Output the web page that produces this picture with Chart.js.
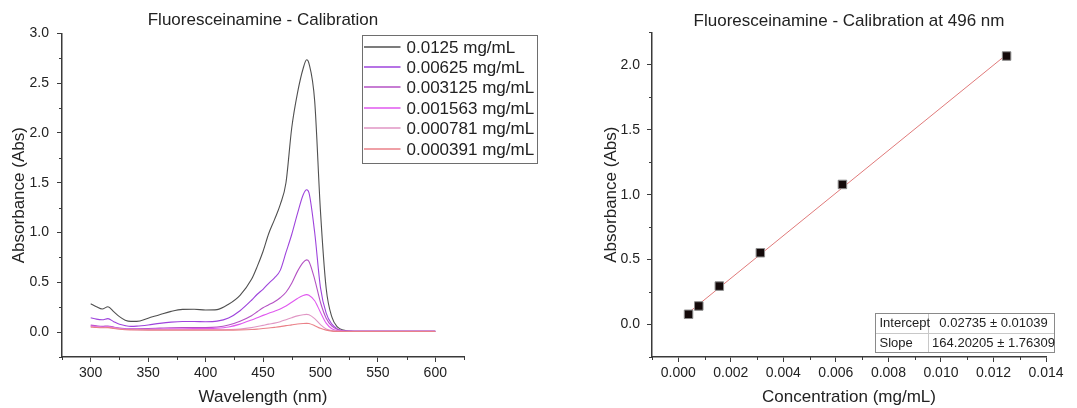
<!DOCTYPE html>
<html>
<head>
<meta charset="utf-8">
<title>Fluoresceinamine calibration</title>
<script src="https://cdn.jsdelivr.net/npm/chart.js@4/dist/chart.umd.min.js"></script>
<style>
  html, body { margin: 0; padding: 0; background: #ffffff; }
  #wrap { position: relative; width: 1077px; height: 408px; overflow: hidden; background: #ffffff; }
  #spec { position: absolute; left: 0; top: 0; }
  #calib { position: absolute; left: 540px; top: 0; }
</style>
</head>
<body>
<div id="wrap">
  <canvas id="spec" width="540" height="408"></canvas>
  <canvas id="calib" width="537" height="408"></canvas>
</div>
<script>
// ---------- Absorption spectra (left panel) ----------
const wavelengths = [300, 305, 310, 315, 320, 325, 330, 335, 340,
  350, 360, 370, 380, 390, 400, 410, 420, 430, 440,
  445, 450, 455, 460, 465, 470, 475, 480, 485, 488, 490, 495, 500, 505, 510, 515, 520, 525, 530,
  540, 560, 580, 600];

const seriesLabels = ['0.0125 mg/mL', '0.00625 mg/mL', '0.003125 mg/mL', '0.001563 mg/mL', '0.000781 mg/mL', '0.000391 mg/mL'];

const abs0125 = [0.285, 0.255, 0.232, 0.255, 0.205, 0.155, 0.120, 0.108, 0.108,
  0.140, 0.175, 0.208, 0.228, 0.230, 0.222, 0.226, 0.280, 0.370, 0.530,
  0.660, 0.810, 0.990, 1.130, 1.280, 1.500, 2.050, 2.400, 2.650, 2.735, 2.700, 2.320, 1.220, 0.440, 0.150, 0.050, 0.020, 0.010, 0.008,
  0.007, 0.007, 0.007, 0.007];

const abs00625 = [0.145, 0.130, 0.124, 0.135, 0.105, 0.078, 0.065, 0.058, 0.060,
  0.072, 0.088, 0.100, 0.106, 0.106, 0.104, 0.110, 0.142, 0.215, 0.320,
  0.380, 0.430, 0.490, 0.545, 0.620, 0.800, 0.980, 1.190, 1.380, 1.430, 1.400, 1.000, 0.450, 0.190, 0.080, 0.030, 0.014, 0.010, 0.009,
  0.009, 0.009, 0.009, 0.009];

const abs003125 = [0.070, 0.063, 0.058, 0.062, 0.050, 0.040, 0.035, 0.032, 0.033,
  0.036, 0.040, 0.044, 0.046, 0.047, 0.047, 0.052, 0.072, 0.110, 0.165,
  0.205, 0.245, 0.275, 0.305, 0.345, 0.400, 0.490, 0.610, 0.700, 0.725, 0.710, 0.530, 0.300, 0.140, 0.060, 0.025, 0.012, 0.009, 0.008,
  0.008, 0.008, 0.008, 0.008];

const abs001563 = [0.062, 0.056, 0.052, 0.056, 0.046, 0.036, 0.031, 0.028, 0.028,
  0.029, 0.031, 0.033, 0.034, 0.035, 0.036, 0.040, 0.052, 0.080, 0.122,
  0.145, 0.168, 0.190, 0.210, 0.232, 0.262, 0.300, 0.338, 0.368, 0.376, 0.370, 0.315, 0.200, 0.090, 0.033, 0.014, 0.009, 0.008, 0.008,
  0.008, 0.008, 0.008, 0.008];

const abs000781 = [0.056, 0.051, 0.048, 0.050, 0.041, 0.033, 0.028, 0.026, 0.025,
  0.024, 0.024, 0.024, 0.024, 0.024, 0.024, 0.024, 0.026, 0.031, 0.045,
  0.056, 0.068, 0.080, 0.090, 0.105, 0.125, 0.145, 0.163, 0.175, 0.178, 0.175, 0.135, 0.075, 0.032, 0.015, 0.010, 0.008, 0.007, 0.007,
  0.007, 0.007, 0.007, 0.007];

const abs000391 = [0.050, 0.046, 0.044, 0.045, 0.037, 0.029, 0.024, 0.022, 0.021,
  0.020, 0.020, 0.020, 0.020, 0.020, 0.020, 0.020, 0.020, 0.022, 0.026,
  0.030, 0.036, 0.042, 0.048, 0.055, 0.065, 0.073, 0.082, 0.087, 0.088, 0.086, 0.065, 0.038, 0.020, 0.010, 0.007, 0.006, 0.006, 0.006,
  0.006, 0.006, 0.006, 0.006];

const seriesValues = [abs0125, abs00625, abs003125, abs001563, abs000781, abs000391];
const seriesColors = ['#505050', '#9e44dc', '#b452c4', '#e058ef', '#e096c4', '#ea8088'];

const specXTicks = [300, 350, 400, 450, 500, 550, 600];
const specXMinor = [275, 325, 375, 425, 475, 525, 575, 625];
const specYTicks = [0, 0.5, 1.0, 1.5, 2.0, 2.5, 3.0];
const specYMinor = [-0.25, 0.25, 0.75, 1.25, 1.75, 2.25, 2.75];

// ---------- Calibration at 496 nm (right panel) ----------
const concentrations = [0.000391, 0.000781, 0.001563, 0.003125, 0.00625, 0.0125];
const absorbance496 = [0.079, 0.143, 0.296, 0.553, 1.079, 2.068];
const fitIntercept = 0.02735;
const fitSlope = 164.20205;
const fitTable = [['Intercept', '0.02735 \u00b1 0.01039'], ['Slope', '164.20205 \u00b1 1.76309']];

const calXTicks = [0, 0.002, 0.004, 0.006, 0.008, 0.010, 0.012, 0.014];
const calXMinor = [-0.001, 0.001, 0.003, 0.005, 0.007, 0.009, 0.011, 0.013];
const calYTicks = [0, 0.5, 1.0, 1.5, 2.0];
const calYMinor = [-0.25, 0.25, 0.75, 1.25, 1.75, 2.25];

// ---------- shared styling ----------
const FAMILY = "'Liberation Sans', Arial, Helvetica, sans-serif";
const AXIS = '#3a3a3a';
const TEXT = '#222222';

// short outward tick marks between the labelled ones
const minorTicks = {
  id: 'minorTicks',
  afterDraw(chart, args, opts) {
    const ctx = chart.ctx;
    const xs = chart.scales.x, ys = chart.scales.y;
    ctx.save();
    ctx.strokeStyle = AXIS;
    ctx.lineWidth = 1;
    (opts.x || []).forEach(v => {
      const px = Math.round(xs.getPixelForValue(v)) + 0.5;
      ctx.beginPath(); ctx.moveTo(px, xs.top); ctx.lineTo(px, xs.top + 3); ctx.stroke();
    });
    (opts.y || []).forEach(v => {
      const py = Math.round(ys.getPixelForValue(v)) + 0.5;
      ctx.beginPath(); ctx.moveTo(ys.right, py); ctx.lineTo(ys.right - 3, py); ctx.stroke();
    });
    ctx.restore();
  }
};

// framed legend in the upper right of the spectra panel
const boxLegend = {
  id: 'boxLegend',
  afterDraw(chart) {
    const ctx = chart.ctx, ca = chart.chartArea;
    const x0 = Math.round(ca.right - 102) + 0.5, y0 = Math.round(ca.top + 2) + 0.5;
    const w = 175, h = 128, rowH = 20.4;
    ctx.save();
    ctx.lineWidth = 1;
    ctx.strokeStyle = '#6e6e6e';
    ctx.strokeRect(x0, y0, w, h);
    ctx.font = '17px ' + FAMILY;
    ctx.textBaseline = 'middle';
    ctx.textAlign = 'left';
    seriesLabels.forEach((label, i) => {
      const cy = Math.round(y0 + 11 + i * rowH);
      ctx.strokeStyle = seriesColors[i];
      ctx.lineWidth = 1.5;
      ctx.beginPath(); ctx.moveTo(x0 + 1.5, cy); ctx.lineTo(x0 + 38, cy); ctx.stroke();
      ctx.fillStyle = TEXT;
      ctx.fillText(label, x0 + 44, cy + 1);
    });
    ctx.restore();
  }
};

// fit-parameter table in the lower right of the calibration panel
const fitTableBox = {
  id: 'fitTableBox',
  afterDraw(chart) {
    const ctx = chart.ctx, ca = chart.chartArea;
    const w = 179, rowH = 19.5, col1 = 53;
    const x0 = Math.round(ca.right + 8 - w) + 0.5;
    const y0 = Math.round(ca.bottom - 44) + 0.5;
    const h = rowH * fitTable.length;
    ctx.save();
    ctx.fillStyle = '#ffffff';
    ctx.fillRect(x0, y0, w, h);
    ctx.strokeStyle = '#c8c8c8';
    ctx.lineWidth = 1;
    ctx.beginPath();
    ctx.moveTo(x0 + col1, y0); ctx.lineTo(x0 + col1, y0 + h);
    ctx.moveTo(x0, Math.round(y0 + rowH) + 0.5); ctx.lineTo(x0 + w, Math.round(y0 + rowH) + 0.5);
    ctx.stroke();
    ctx.strokeStyle = '#8a8a8a';
    ctx.strokeRect(x0, y0, w, h);
    ctx.font = '13px ' + FAMILY;
    ctx.fillStyle = TEXT;
    ctx.textBaseline = 'middle';
    fitTable.forEach((row, i) => {
      const cy = y0 + rowH * i + rowH / 2 + 0.5;
      ctx.textAlign = 'left';
      ctx.fillText(row[0], x0 + 4, cy);
      ctx.textAlign = 'center';
      ctx.fillText(row[1], x0 + col1 + (w - col1) / 2 + 2, cy);
    });
    ctx.restore();
  }
};

function axisStyle(extra) {
  return Object.assign({
    type: 'linear',
    grid: { display: true, drawOnChartArea: false, drawTicks: true, tickLength: 5, color: AXIS, lineWidth: 1 },
    border: { display: true, color: AXIS, width: 1.5 },
  }, extra);
}

function fixedTicks(values) {
  return scale => { scale.ticks = values.map(v => ({ value: v })); };
}

// ---------- left chart ----------
const specDatasets = seriesLabels.map((label, i) => ({
  label: label,
  data: wavelengths.map((w, k) => ({ x: w, y: seriesValues[i][k] })),
  borderColor: seriesColors[i],
  backgroundColor: seriesColors[i],
  borderWidth: 1.1,
  pointRadius: 0,
  fill: false,
  cubicInterpolationMode: 'monotone',
  order: seriesLabels.length - i
}));

new Chart(document.getElementById('spec'), {
  type: 'line',
  data: { datasets: specDatasets },
  options: {
    responsive: false,
    animation: false,
    events: [],
    layout: { padding: { left: 0, right: 76, top: 0, bottom: 0 } },
    plugins: {
      legend: { display: false },
      tooltip: { enabled: false },
      title: {
        display: true, text: 'Fluoresceinamine - Calibration', fullSize: false,
        color: TEXT, font: { family: FAMILY, size: 17, weight: 'normal' },
        padding: { top: 10, bottom: 3 }
      },
      minorTicks: { x: specXMinor, y: specYMinor }
    },
    scales: {
      x: axisStyle({
        min: 275, max: 625,
        afterBuildTicks: fixedTicks(specXTicks),
        afterFit: s => { s.height = 51; },
        ticks: { color: TEXT, font: { family: FAMILY, size: 14 }, padding: 3, maxRotation: 0, autoSkip: false,
                 callback: v => String(v) },
        title: { display: true, text: 'Wavelength (nm)', color: TEXT,
                 font: { family: FAMILY, size: 17 }, padding: { top: 0, bottom: 0 } }
      }),
      y: axisStyle({
        min: -0.25, max: 3.0,
        afterBuildTicks: fixedTicks(specYTicks),
        afterFit: s => { s.width = 62; },
        ticks: { color: TEXT, font: { family: FAMILY, size: 14 }, padding: 8, autoSkip: false,
                 callback: v => Number(v).toFixed(1) },
        title: { display: true, text: 'Absorbance (Abs)', color: TEXT,
                 font: { family: FAMILY, size: 17 }, padding: { top: 9, bottom: 0 } }
      })
    }
  },
  plugins: [minorTicks, boxLegend]
});

// ---------- right chart ----------
const fitEnds = [concentrations[0], concentrations[concentrations.length - 1]];

new Chart(document.getElementById('calib'), {
  type: 'scatter',
  data: {
    datasets: [
      {
        label: 'Absorbance at 496 nm',
        data: concentrations.map((c, k) => ({ x: c, y: absorbance496[k] })),
        pointStyle: 'rect',
        pointRadius: 6,
        backgroundColor: '#140a0a',
        borderColor: '#8c8c8c',
        borderWidth: 1,
        order: 0
      },
      {
        label: 'Linear fit',
        data: fitEnds.map(c => ({ x: c, y: fitIntercept + fitSlope * c })),
        showLine: true,
        borderColor: '#e07a7a',
        borderWidth: 1,
        pointRadius: 0,
        order: 1
      }
    ]
  },
  options: {
    responsive: false,
    animation: false,
    events: [],
    layout: { padding: { left: 0, right: 31, top: 0, bottom: 0 } },
    plugins: {
      legend: { display: false },
      tooltip: { enabled: false },
      title: {
        display: true, text: 'Fluoresceinamine - Calibration at 496 nm', fullSize: false,
        color: TEXT, font: { family: FAMILY, size: 17, weight: 'normal' },
        padding: { top: 11, bottom: 1 }
      },
      minorTicks: { x: calXMinor, y: calYMinor }
    },
    scales: {
      x: axisStyle({
        min: -0.001, max: 0.014,
        afterBuildTicks: fixedTicks(calXTicks),
        afterFit: s => { s.height = 51; },
        ticks: { color: TEXT, font: { family: FAMILY, size: 14 }, padding: 3, maxRotation: 0, autoSkip: false,
                 callback: v => Number(v).toFixed(3) },
        title: { display: true, text: 'Concentration (mg/mL)', color: TEXT,
                 font: { family: FAMILY, size: 17 }, padding: { top: 0, bottom: 0 } }
      }),
      y: axisStyle({
        min: -0.25, max: 2.25,
        afterBuildTicks: fixedTicks(calYTicks),
        afterFit: s => { s.width = 112; },
        ticks: { color: TEXT, font: { family: FAMILY, size: 14 }, padding: 7, autoSkip: false,
                 callback: v => Number(v).toFixed(1) },
        title: { display: true, text: 'Absorbance (Abs)', color: TEXT,
                 font: { family: FAMILY, size: 17 }, padding: { top: 61, bottom: 0 } }
      })
    }
  },
  plugins: [minorTicks, fitTableBox]
});
</script>
</body>
</html>
